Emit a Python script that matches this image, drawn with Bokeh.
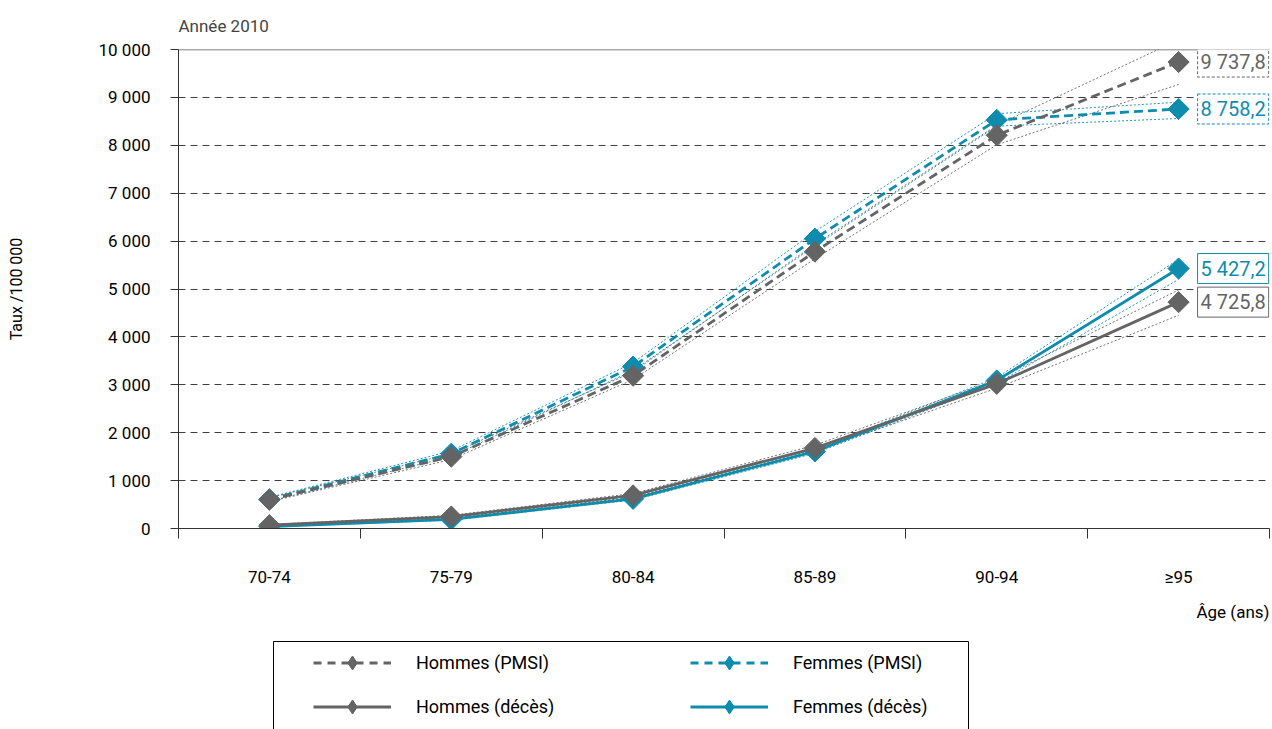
import numpy as np
from bokeh.plotting import figure
from bokeh.models import (FactorRange, Range1d, LinearAxis, CategoricalAxis, FixedTicker,
                          Label, Legend, LegendItem, Span, Title, BoxAnnotation)
from bokeh.layouts import column
from bokeh.embed import file_html
from bokeh.resources import INLINE

# ---------------- data ----------------
categories = ["70-74", "75-79", "80-84", "85-89", "90-94", "≥95"]

hommes_pmsi = [600, 1500, 3190, 5780, 8210, 9737.8]
hommes_pmsi_low = [560, 1440, 3110, 5630, 8010, 9270]
hommes_pmsi_high = [640, 1560, 3270, 5930, 8420, 10200]

femmes_pmsi = [610, 1560, 3380, 6050, 8530, 8758.2]
femmes_pmsi_low = [570, 1500, 3300, 5900, 8400, 8560]
femmes_pmsi_high = [650, 1620, 3460, 6200, 8660, 8900]

hommes_deces = [70, 250, 690, 1680, 3020, 4725.8]
hommes_deces_low = [55, 225, 650, 1620, 2930, 4450]
hommes_deces_high = [85, 275, 730, 1740, 3110, 4980]

femmes_deces = [40, 190, 620, 1610, 3090, 5427.2]
femmes_deces_low = [30, 175, 595, 1570, 3030, 5200]
femmes_deces_high = [50, 205, 645, 1650, 3150, 5620]

y_ticks = [0, 1000, 2000, 3000, 4000, 5000, 6000, 7000, 8000, 9000, 10000]
y_tick_labels = ["0", "1 000", "2 000", "3 000", "4 000", "5 000", "6 000",
                 "7 000", "8 000", "9 000", "10 000"]

title_text = "Année 2010"
y_label = "Taux /100 000"
x_label = "Âge (ans)"

GRAY = "#646464"
TEAL = "#0E8CAD"
FONT = "Roboto"


def fr_num(v):
    s = f"{v:,.1f}"
    return s.replace(",", " ").replace(".", ",")


# ---------------- main figure ----------------
p = figure(width=1272, height=632,
           x_range=FactorRange(*categories), y_range=Range1d(y_ticks[0], y_ticks[-1]),
           output_backend="svg", toolbar_location=None, x_axis_location=None,
           min_border_left=178, min_border_right=3, min_border_top=48, min_border_bottom=104)
p.outline_line_color = None
p.background_fill_color = "white"
p.border_fill_color = "white"
p.xgrid.visible = False

p.title.text = title_text
p.title.text_font = FONT
p.title.text_font_size = "17px"
p.title.text_font_style = "normal"
p.title.align = "left"
p.title.standoff = 27

# y axis
ya = p.yaxis[0]
ya.ticker = FixedTicker(ticks=y_ticks)
ya.major_label_overrides = {t: l for t, l in zip(y_ticks, y_tick_labels)}
ya.major_label_text_font = FONT
ya.major_label_text_font_size = "17px"
ya.major_label_text_color = "black"
ya.major_label_standoff = 20
ya.major_tick_out = 8
ya.major_tick_in = 0
ya.minor_tick_line_color = None
ya.axis_line_color = "#333333"
ya.major_tick_line_color = "#333333"
ya.axis_label = y_label
ya.axis_label_text_font = FONT
ya.axis_label_text_font_size = "16px"
ya.axis_label_text_font_style = "normal"
ya.axis_label_text_color = "black"
ya.axis_label_standoff = 70

p.ygrid.ticker = FixedTicker(ticks=y_ticks[1:-1])
p.ygrid.grid_line_color = "#404040"
p.ygrid.grid_line_dash = "7 5"
p.ygrid.grid_line_width = 1

p.add_layout(Span(location=y_ticks[-1], dimension="width", line_color="#555555", line_width=1.5))

# x axes: boundary ticks (between categories) + category labels
bounds = list(range(len(categories) + 1))
tick_axis = LinearAxis(ticker=FixedTicker(ticks=bounds),
                       major_label_overrides={i: "" for i in bounds},
                       major_label_text_font_size="0px", major_label_standoff=0,
                       major_tick_out=10, major_tick_in=0,
                       minor_tick_line_color=None,
                       axis_line_color="#333333", major_tick_line_color="#333333",
                       axis_line_width=1.2)
p.add_layout(tick_axis, "below")

cat_axis = CategoricalAxis(major_tick_line_color=None, minor_tick_line_color=None,
                           axis_line_color=None,
                           major_label_text_font=FONT, major_label_text_font_size="17px",
                           major_label_text_color="black", major_label_standoff=22)
p.add_layout(cat_axis, "below")

p.add_layout(Title(text=x_label, align="right", text_font=FONT, text_font_size="17px",
                   text_font_style="normal", text_color="black", standoff=20), "below")

# ---------------- series ----------------
series = [
    ("Femmes (PMSI)", femmes_pmsi, femmes_pmsi_low, femmes_pmsi_high, TEAL, "9 5"),
    ("Femmes (décès)", femmes_deces, femmes_deces_low, femmes_deces_high, TEAL, None),
    ("Hommes (PMSI)", hommes_pmsi, hommes_pmsi_low, hommes_pmsi_high, GRAY, "9 5"),
    ("Hommes (décès)", hommes_deces, hommes_deces_low, hommes_deces_high, GRAY, None),
]

for name, vals, low, high, col, dash in series:
    for bound in (low, high):
        p.line(categories, bound, line_color=col, line_width=1, line_dash="2 2", line_alpha=0.9)

last_center = len(categories) - 0.5  # centre of the last category (synthetic coordinate)
for name, vals, low, high, col, dash in series:
    kw = {"line_dash": dash} if dash else {}
    p.line(categories, vals, line_color=col, line_width=2.8, **kw)
    p.scatter(categories, vals, marker="square", angle=np.pi / 4, size=15,
              fill_color=col, line_color=col)
    p.add_layout(Label(x=last_center, y=vals[-1], text=fr_num(vals[-1]),
                       x_offset=19, text_baseline="middle", text_align="left",
                       text_font=FONT, text_font_size="20px", text_color=col,
                       border_line_color=col, border_line_width=1,
                       border_line_dash="3 2" if dash else "solid",
                       background_fill_color="white", padding=3))

# ---------------- legend panel ----------------
lf = figure(width=1272, height=97, x_range=Range1d(0, 1), y_range=Range1d(0, 1),
            output_backend="svg", toolbar_location=None,
            x_axis_location=None, y_axis_location=None,
            min_border_left=178, min_border_right=3, min_border_top=0, min_border_bottom=0)
lf.xgrid.visible = False
lf.ygrid.visible = False
lf.outline_line_color = None

legend_specs = [
    ("Hommes (PMSI)", GRAY, "9 5"),
    ("Hommes (décès)", GRAY, None),
    ("Femmes (PMSI)", TEAL, "9 5"),
    ("Femmes (décès)", TEAL, None),
]
items = []
for name, col, dash in legend_specs:
    kw = {"line_dash": "8 6"} if dash else {}
    lr = lf.line([np.nan], [np.nan], line_color=col, line_width=2.8, **kw)
    sr = lf.scatter([np.nan], [np.nan], marker="diamond", size=15,
                    fill_color=col, line_color=col)
    items.append(LegendItem(label=name, renderers=[lr, sr]))

legend = Legend(items=items, ncols=2, location=(135, 5),
                border_line_color=None, background_fill_alpha=0,
                padding=0, margin=0, glyph_width=78, glyph_height=35,
                label_height=35, label_width=265, label_standoff=25, spacing=9,
                label_text_font=FONT, label_text_font_size="18px",
                label_text_color="black")
lf.add_layout(legend, "center")

lf.add_layout(BoxAnnotation(left=95, right=790, top=88, bottom=-5,
                            left_units="screen", right_units="screen",
                            top_units="screen", bottom_units="screen",
                            fill_alpha=0, line_color="black", line_width=1, line_alpha=1))

layout = column(p, lf, spacing=0)
open("out.html", "w").write(file_html(layout, INLINE))
